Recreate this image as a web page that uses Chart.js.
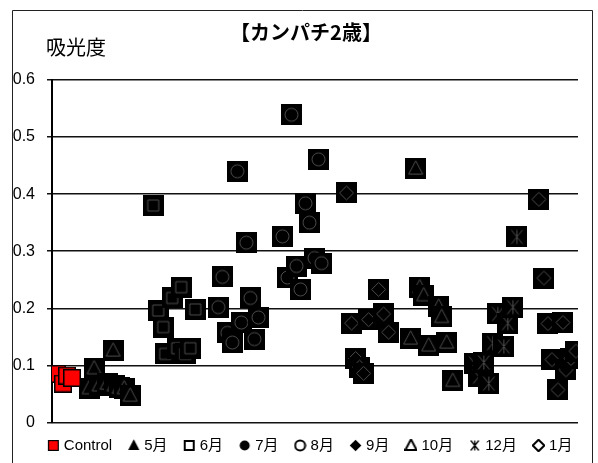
<!DOCTYPE html>
<html>
<head>
<meta charset="utf-8">
<script src="https://cdn.jsdelivr.net/npm/chart.js@4.4.1/dist/chart.umd.min.js"></script>
<style>
  html, body { margin: 0; padding: 0; background: #fff; }
  #wrap { width: 598px; height: 463px; }
</style>
</head>
<body>
<div id="wrap"><canvas id="chart" width="598" height="463"></canvas></div>
<script>
// series names (legend order)
const seriesNames = ['Control', '5月', '6月', '7月', '8月', '9月', '10月', '12月', '1月'];
const yTicks = [0, 0.1, 0.2, 0.3, 0.4, 0.5, 0.6];

// sample position along the row and absorbance
const controlX = [1, 2.2, 3, 4];
const controlY = [0.085, 0.068, 0.082, 0.078];
const mayX = [7.4, 8.4, 9.4, 11, 12.2, 12.4, 13.4, 14.4, 15.6];
const mayY = [0.060, 0.095, 0.065, 0.068, 0.126, 0.065, 0.061, 0.060, 0.047];
const junX = [20.2, 21.2, 22.2, 22.6, 24, 25, 25.8, 26.6, 27.6, 28.6];
const junY = [0.380, 0.196, 0.167, 0.120, 0.218, 0.130, 0.237, 0.120, 0.130, 0.198];
const julX = [33.2, 34, 35, 36, 37, 37.8, 38.8, 39.6, 40.4, 41.2];
const julY = [0.202, 0.255, 0.157, 0.140, 0.440, 0.175, 0.315, 0.218, 0.146, 0.184];
const augX = [46, 47, 47.8, 48.8, 49.6, 50.6, 51.4, 52.4, 53.2, 53.8];
const augY = [0.326, 0.254, 0.539, 0.274, 0.233, 0.384, 0.350, 0.288, 0.461, 0.279];
const sepX = [58.8, 59.8, 60.6, 61.4, 62.2, 63.2, 65.2, 66.2, 67.2];
const sepY = [0.402, 0.174, 0.112, 0.097, 0.086, 0.180, 0.233, 0.190, 0.158];
const octX = [71.6, 72.6, 73.4, 74.2, 75.2, 77.2, 77.8, 78.8, 80];
const octY = [0.147, 0.445, 0.237, 0.223, 0.135, 0.203, 0.185, 0.140, 0.073];
const decX = [84.4, 85.2, 86.2, 87.2, 88, 89, 90.2, 91, 92, 92.8];
const decY = [0.103, 0.080, 0.105, 0.068, 0.139, 0.190, 0.133, 0.174, 0.202, 0.325];
const janX = [97.2, 98.2, 99, 99.8, 101, 102, 102.6, 103.6, 104.6];
const janY = [0.391, 0.253, 0.173, 0.110, 0.057, 0.175, 0.092, 0.112, 0.125];

const seriesX = [controlX, mayX, junX, julX, augX, sepX, octX, decX, janX];
const seriesY = [controlY, mayY, junY, julY, augY, sepY, octY, decY, janY];
const shapes = ['control', 'triangle', 'square', 'circle', 'circle', 'diamond', 'triangle', 'cross', 'diamond'];
const legendShapes = ['control', 'triFill', 'sqOpen', 'cirFill', 'cirOpen', 'diaFill', 'triOpen', 'cross', 'diaOpen'];

const FONT = "'Liberation Sans', 'Noto Sans CJK JP', sans-serif";
const JP = "'Noto Sans CJK JP', sans-serif";

function outline(ctx, kind, c, r) {
    ctx.beginPath();
    if (kind === 'square') {
        ctx.rect(c - r, c - r, 2 * r, 2 * r);
    } else if (kind === 'circle') {
        ctx.arc(c, c, r, 0, Math.PI * 2);
    } else if (kind === 'triangle') {
        ctx.moveTo(c, c - r * 1.1);
        ctx.lineTo(c + r, c + r * 0.8);
        ctx.lineTo(c - r, c + r * 0.8);
        ctx.closePath();
    } else if (kind === 'diamond') {
        ctx.moveTo(c, c - r);
        ctx.lineTo(c + r, c);
        ctx.lineTo(c, c + r);
        ctx.lineTo(c - r, c);
        ctx.closePath();
    } else if (kind === 'cross') {
        ctx.moveTo(c - r * 0.8, c - r);
        ctx.lineTo(c + r * 0.8, c + r);
        ctx.moveTo(c + r * 0.8, c - r);
        ctx.lineTo(c - r * 0.8, c + r);
        ctx.moveTo(c, c - r);
        ctx.lineTo(c, c + r);
    }
}

// plot marker: black tile with a thin grey outline of the shape
function makeMarker(kind) {
    const cv = document.createElement('canvas');
    if (kind === 'control') {
        cv.width = 18; cv.height = 18;
        const g = cv.getContext('2d');
        g.fillStyle = '#000';
        g.fillRect(0, 0, 18, 18);
        g.fillStyle = '#ff0000';
        g.fillRect(1.5, 1.5, 15, 15);
        return cv;
    }
    cv.width = 21; cv.height = 21;
    const g = cv.getContext('2d');
    g.fillStyle = '#000';
    g.fillRect(0, 0, 21, 21);
    g.strokeStyle = '#4d4d4d';
    g.lineWidth = 1;
    const r = { square: 5.5, circle: 6.5, triangle: 7, diamond: 7, cross: 7 }[kind];
    outline(g, kind, 10.5, r);
    g.stroke();
    return cv;
}

// small legend symbols
function makeLegendIcon(kind) {
    const cv = document.createElement('canvas');
    cv.width = 13; cv.height = 13;
    const g = cv.getContext('2d');
    const c = 6.5;
    g.fillStyle = '#000';
    g.strokeStyle = '#000';
    g.lineWidth = 2;
    if (kind === 'control') {
        g.fillRect(1, 1, 11, 11);
        g.fillStyle = '#ff0000';
        g.fillRect(2.2, 2.2, 8.6, 8.6);
        return cv;
    }
    const base = kind.replace(/Fill|Open/, '');
    const map = { tri: 'triangle', sq: 'square', cir: 'circle', dia: 'diamond', cross: 'cross' };
    const r = { tri: 5.6, sq: 4.5, cir: 5, dia: 5.8, cross: 5 }[base];
    outline(g, map[base], c, r);
    if (kind.endsWith('Fill')) g.fill(); else { g.lineWidth = kind === 'cross' ? 1.3 : 2; g.stroke(); }
    return cv;
}

const markers = shapes.map(makeMarker);
const legendIcons = legendShapes.map(makeLegendIcon);

const datasets = seriesNames.map((name, i) => ({
    label: name,
    data: seriesX[i].map((x, k) => ({ x: x, y: seriesY[i][k] })),
    pointStyle: markers[i],
    pointRadius: 10,
    showLine: false,
    backgroundColor: '#000',
    borderColor: '#000'
}));

// frame, title and y-axis caption
const decorations = {
    id: 'decorations',
    afterLayout(chart) {
        // pull the legend row a little closer to the plot
        if (chart.legend) {
            chart.legend.top -= 3;
            chart.legend.bottom -= 3;
        }
    },
    beforeDraw(chart) {
        const ctx = chart.ctx;
        ctx.save();
        ctx.fillStyle = '#fff';
        ctx.fillRect(0, 0, chart.width, chart.height);
        ctx.strokeStyle = '#222';
        ctx.lineWidth = 1;
        ctx.beginPath();
        ctx.moveTo(12.5, 470);
        ctx.lineTo(12.5, 10.5);
        ctx.lineTo(592.5, 10.5);
        ctx.lineTo(592.5, 470);
        ctx.stroke();
        ctx.restore();
    },
    afterDraw(chart) {
        const ctx = chart.ctx;
        ctx.save();
        ctx.fillStyle = '#000';
        ctx.textBaseline = 'middle';
        ctx.textAlign = 'center';
        ctx.font = 'bold 20px ' + JP;
        ctx.fillText('【カンパチ2歳】', 306, 32);
        ctx.textAlign = 'left';
        ctx.font = '20px ' + JP;
        ctx.fillText('吸光度', 46, 47);
        ctx.restore();
    }
};

const ctx = document.getElementById('chart').getContext('2d');
new Chart(ctx, {
    type: 'scatter',
    data: { datasets: datasets },
    options: {
        responsive: false,
        animation: false,
        devicePixelRatio: 1,
        layout: { padding: { left: 0, right: 7, top: 80, bottom: -3 } },
        scales: {
            x: { type: 'linear', min: 0, max: 105, display: false },
            y: {
                min: 0,
                max: 0.6,
                afterBuildTicks: (scale) => { scale.ticks = yTicks.map(v => ({ value: v })); },
                afterFit: (scale) => { scale.width = 52; },
                ticks: {
                    color: '#000',
                    padding: 12,
                    font: { family: FONT, size: 16 },
                    callback: (v) => String(v)
                },
                grid: { color: '#111', lineWidth: 1.5, tickLength: 5, drawTicks: true },
                border: { display: true, color: '#000', width: 2 }
            },
            // empty right gutter so the legend can run past the plot edge
            yRight: {
                position: 'right',
                min: 0,
                max: 0.6,
                afterFit: (scale) => { scale.width = 13; },
                ticks: { display: false },
                grid: { display: false, drawTicks: false },
                border: { display: false }
            }
        },
        plugins: {
            legend: {
                position: 'bottom',
                align: 'end',
                labels: {
                    usePointStyle: true,
                    boxWidth: 6,
                    boxHeight: 12,
                    padding: 18.6,
                    color: '#000',
                    font: { family: FONT, size: 15 },
                    generateLabels: (chart) => seriesNames.map((name, i) => ({
                        text: name,
                        pointStyle: legendIcons[i],
                        fillStyle: '#000',
                        strokeStyle: '#000',
                        lineWidth: 0,
                        hidden: false,
                        datasetIndex: i,
                        fontColor: '#000'
                    }))
                }
            },
            tooltip: { enabled: false }
        }
    },
    plugins: [decorations]
});
</script>
</body>
</html>
